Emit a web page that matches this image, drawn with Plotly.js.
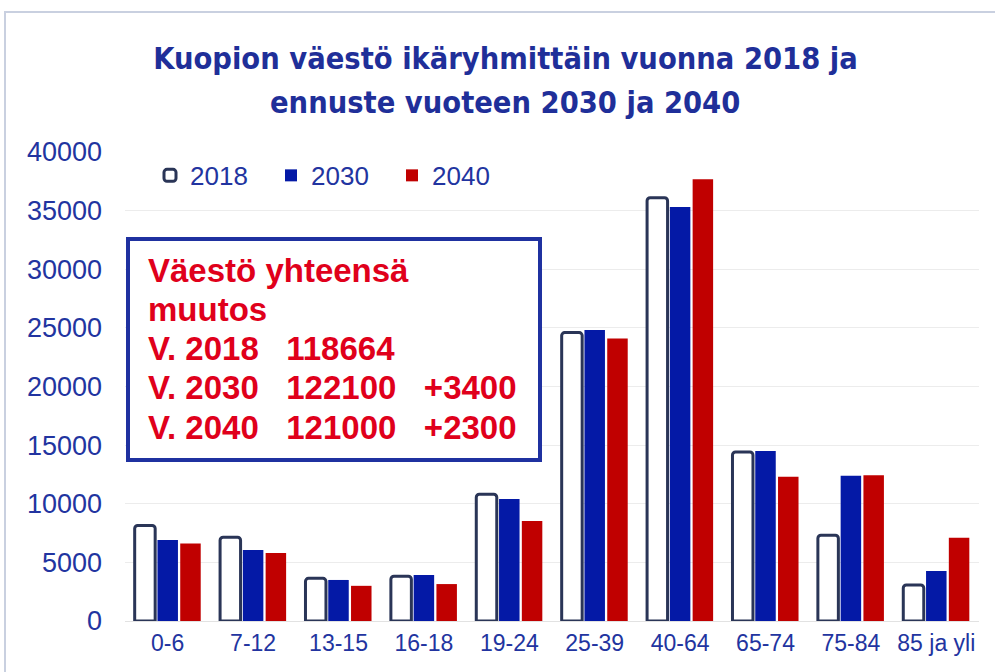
<!DOCTYPE html>
<html>
<head>
<meta charset="utf-8">
<script src="https://cdn.plot.ly/plotly-3.0.1.min.js"></script>
<style>html,body{margin:0;padding:0;background:#fff;}#chart{width:995px;height:672px;}</style>
</head>
<body>
<div id="chart"></div>
<script>
const categories = ["0-6", "7-12", "13-15", "16-18", "19-24", "25-39", "40-64", "65-74", "75-84", "85 ja yli"];
const v2018 = [8150, 7150, 3640, 3820, 10820, 24600, 36100, 14420, 7320, 3080];
const v2030 = [6900, 6050, 3500, 3920, 10400, 24820, 35300, 14500, 12380, 4270];
const v2040 = [6620, 5800, 3000, 3150, 8520, 24100, 37680, 12300, 12440, 7100];
const seriesNames = ["2018", "2030", "2040"];
const titleLines = ["Kuopion väestö ikäryhmittäin vuonna 2018 ja", "ennuste vuoteen 2030 ja 2040"];
const summaryLines = [
  "Väestö yhteensä",
  "muutos",
  "V. 2018\u00a0\u00a0\u00a0118664",
  "V. 2030\u00a0\u00a0\u00a0122100\u00a0\u00a0\u00a0+3400",
  "V. 2040\u00a0\u00a0\u00a0121000\u00a0\u00a0\u00a0+2300"
];

const blue = "#2234a0";
const traces = [
  {type: "bar", name: seriesNames[0], x: categories, y: v2018,
   marker: {color: "#ffffff", line: {color: "#2a3557", width: 3}, cornerradius: 3}},
  {type: "bar", name: seriesNames[1], x: categories, y: v2030,
   marker: {color: "#0419a6", line: {width: 0}}},
  {type: "bar", name: seriesNames[2], x: categories, y: v2040,
   marker: {color: "#c00000", line: {width: 0}}}
];

// plot area in pixels: x 125..979, y 152..621
const toPaperY = py => (621 - py) / 469;
const toPaperX = px => (px - 125) / 854;

const titleFont = {family: "DejaVu Sans Condensed, Liberation Sans Narrow, Liberation Sans, sans-serif", size: 30.5, color: "#1f2f99", weight: "bold"};

const annotations = summaryLines.map((t, i) => ({
  xref: "paper", yref: "paper", x: toPaperX(146), y: toPaperY(270 + i * 39.3),
  xanchor: "left", yanchor: "middle", align: "left", showarrow: false, text: t,
  font: {family: "Liberation Sans, Arial, sans-serif", size: 33, color: "#e0001b", weight: "bold"}
}));
annotations.push({
  xref: "paper", yref: "paper", x: toPaperX(505), y: toPaperY(103),
  xanchor: "center", yanchor: "middle", showarrow: false, text: titleLines[1], font: titleFont
});

const layout = {
  width: 995, height: 672,
  margin: {l: 125, r: 16, t: 152, b: 51},
  paper_bgcolor: "#ffffff", plot_bgcolor: "#ffffff",
  barmode: "group", bargap: 0.2, bargroupgap: 0.1,
  title: {
    text: titleLines[0],
    x: 0.508, xref: "container", xanchor: "center",
    y: 1 - 58/672, yref: "container", yanchor: "middle",
    font: titleFont
  },
  showlegend: true,
  legend: {
    orientation: "h", x: toPaperX(150), xanchor: "left", y: 0.95, yanchor: "middle",
    font: {family: "Liberation Sans, Arial, sans-serif", size: 26, color: blue},
    entrywidth: 76, entrywidthmode: "pixels", itemwidth: 30,
    bgcolor: "rgba(0,0,0,0)"
  },
  xaxis: {
    type: "category", showgrid: false, showline: false, ticks: "",
    tickfont: {family: "Liberation Sans, Arial, sans-serif", size: 23, color: blue},
    ticklabelstandoff: 6
  },
  yaxis: {
    range: [0, 40000], dtick: 5000, tick0: 0, showgrid: true, gridcolor: "#ececec", gridwidth: 1,
    zeroline: true, zerolinecolor: "#e2e2e2", zerolinewidth: 1, showline: false, ticks: "",
    tickfont: {family: "Liberation Sans, Arial, sans-serif", size: 27, color: blue},
    tickformat: "d", ticklabelstandoff: 22
  },
  shapes: [
    {type: "rect", xref: "paper", yref: "paper", x0: toPaperX(5), x1: toPaperX(1010), y0: toPaperY(700), y1: toPaperY(12),
     line: {color: "#c9d0e0", width: 2}, fillcolor: "rgba(0,0,0,0)", layer: "below"},
    {type: "rect", xref: "paper", yref: "paper", x0: toPaperX(128), x1: toPaperX(540), y0: toPaperY(460), y1: toPaperY(239),
     line: {color: "#1f31a0", width: 4}, fillcolor: "#ffffff", layer: "above"}
  ],
  annotations: annotations
};

Plotly.newPlot("chart", traces, layout, {displayModeBar: false, responsive: false});
</script>
</body>
</html>
